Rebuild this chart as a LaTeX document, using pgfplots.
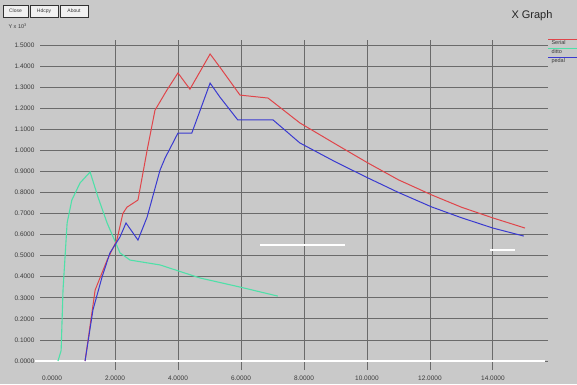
\documentclass[border=0pt]{standalone}
\usepackage{fontspec}
\setmainfont{Liberation Sans}
\usepackage{pgfplots}
\pgfplotsset{compat=1.18}
\definecolor{bg}{HTML}{C9C9C9}
\definecolor{gridc}{HTML}{6A6A6A}
\definecolor{redc}{HTML}{E0454A}
\definecolor{bluec}{HTML}{3A3AD0}
\definecolor{greenc}{HTML}{4FE0A8}
\definecolor{txt}{HTML}{3A3A3A}
\begin{document}
\begin{tikzpicture}
\fill[bg] (0pt,0pt) rectangle (577pt,384pt);
\useasboundingbox (0pt,0pt) rectangle (577pt,384pt);
% window buttons
\draw[gray!40!black, fill=gray!12] (3pt,367pt) rectangle (28pt,379pt);
\node[font=\fontsize{5}{6}\selectfont, text=txt] at (15.5pt,373pt) {Close};
\draw[gray!40!black, fill=gray!12] (30pt,367pt) rectangle (58pt,379pt);
\node[font=\fontsize{5}{6}\selectfont, text=txt] at (44pt,373pt) {Hdcpy};
\draw[gray!40!black, fill=gray!12] (60pt,367pt) rectangle (88pt,379pt);
\node[font=\fontsize{5}{6}\selectfont, text=txt] at (74pt,373pt) {About};
% title
\node[font=\fontsize{11}{13}\selectfont, text=black!85] at (532pt,368pt) {X Graph};
% y unit
\node[anchor=west, font=\fontsize{5.5}{6}\selectfont, text=txt] at (5pt,358pt) {Y x 10\textsuperscript{3}};
% legend
\draw[redc, line width=0.8pt] (548pt,345pt) -- (577pt,345pt);
\node[anchor=west, font=\fontsize{5.5}{6}\selectfont, text=txt] at (548pt,341pt) {Serial};
\draw[greenc, line width=0.8pt] (548pt,336pt) -- (577pt,336pt);
\node[anchor=west, font=\fontsize{5.5}{6}\selectfont, text=txt] at (548pt,332pt) {ditto};
\draw[bluec, line width=0.8pt] (548pt,327pt) -- (577pt,327pt);
\node[anchor=west, font=\fontsize{5.5}{6}\selectfont, text=txt] at (548pt,323pt) {pedal};
\begin{axis}[
  at={(40pt,14pt)}, anchor=south west,
  width=508pt, height=330pt, scale only axis,
  xmin=-0.381, xmax=15.75, ymin=-0.0427, ymax=1.5235,
  axis line style={draw=none},
  major tick length=0pt,
  xtick={0,2,4,6,8,10,12,14},
  ytick={0,0.1,0.2,0.3,0.4,0.5,0.6,0.7,0.8,0.9,1.0,1.1,1.2,1.3,1.4,1.5},
  ymajorgrids=true, xmajorgrids=false,
  extra x ticks={2,4,6,8,10,12,14},
  extra x tick labels={},
  extra x tick style={grid=major, major tick length=0pt},
  major grid style={gridc, line width=0.8pt},
  clip=false,
  tick label style={font=\fontsize{6.5}{7}\selectfont, text=txt},
  yticklabel style={xshift=-2pt},
  xticklabel style={yshift=-2pt},
  /pgf/number format/.cd, fixed, fixed zerofill, precision=4, assume math mode=true,
]
% white baseline and white segments
\addplot[white, line width=1.2pt] coordinates {(-0.54,0) (15.65,0)};
\addplot[white, line width=1.4pt] coordinates {(6.60,0.551) (9.30,0.551)};
\addplot[white, line width=1.4pt] coordinates {(13.9,0.527) (14.7,0.527)};
% green
\addplot[greenc, line width=1.1pt] coordinates {
(0.19,0.0) (0.29,0.05) (0.35,0.337) (0.48,0.655) (0.63,0.764) (0.89,0.845)
(1.21,0.897) (1.46,0.778) (1.75,0.655) (2.16,0.513) (2.48,0.479) (3.43,0.456)
(4.70,0.394) (5.97,0.351) (7.17,0.308)};
% red
\addplot[redc, line width=1.0pt] coordinates {
(1.05,0.0) (1.37,0.337) (1.75,0.479) (2.06,0.574) (2.25,0.70) (2.38,0.73)
(2.73,0.764) (3.02,1.00) (3.27,1.19) (3.65,1.286) (4.00,1.367) (4.38,1.29)
(5.02,1.457) (5.33,1.395) (5.97,1.262) (6.86,1.248) (7.87,1.13) (9.0,1.03)
(10.03,0.94) (11.0,0.86) (12.06,0.788) (13.0,0.73) (14.0,0.679) (15.02,0.631)};
% blue
\addplot[bluec, line width=1.0pt] coordinates {
(1.05,0.0) (1.30,0.242) (1.59,0.399) (1.84,0.513) (2.16,0.589) (2.35,0.655)
(2.73,0.574) (3.02,0.683) (3.43,0.906) (3.59,0.963) (4.00,1.082) (4.44,1.082)
(5.02,1.319) (5.33,1.253) (5.90,1.144) (7.02,1.144) (7.87,1.035) (9.0,0.945)
(10.03,0.869) (11.0,0.80) (12.06,0.731) (13.0,0.68) (14.0,0.631) (14.98,0.593)};
\end{axis}
\end{tikzpicture}
\end{document}
